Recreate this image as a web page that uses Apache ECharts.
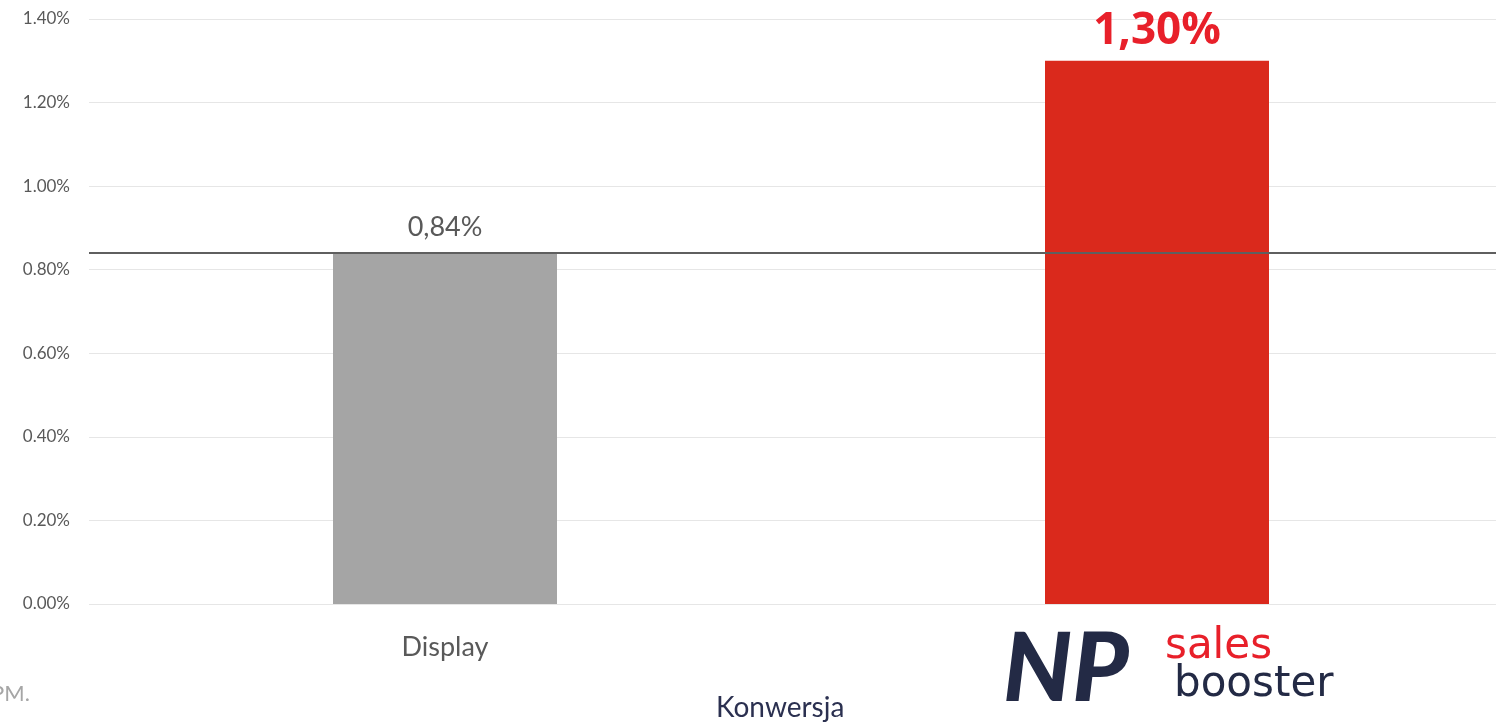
<!DOCTYPE html>
<html lang="pl">
<head>
    <meta charset="UTF-8"/>
    <title>Konwersja</title>
    <script src="https://cdn.jsdelivr.net/npm/echarts@6/dist/echarts.min.js"></script>
    <style>
        html, body {margin: 0; padding: 0; background: #fff;}
        #chart {width: 1496px; height: 728px;}
    </style>
</head>
<body>
<div id="chart"></div>
<script type="text/javascript">
    var categories = ["Display", "sales booster"];
    var values = [0.84, 1.30];
    var valueLabels = ["0,84%", "1,30%"];
    var barColors = ["#a5a5a5", "#da291c"];
    var refValue = 0.84;
    var yTicks = [0, 0.2, 0.4, 0.6, 0.8, 1.0, 1.2, 1.4];

    var font = "Lato, 'Open Sans', sans-serif";
    var chart = echarts.init(document.getElementById("chart"));

    chart.setOption({
        animation: false,
        grid: {left: 89, width: 1424, top: 19, bottom: 124, outerBoundsMode: "none", containLabel: false},
        xAxis: {
            type: "category",
            data: categories,
            axisLine: {show: false},
            axisTick: {show: false},
            axisLabel: {
                margin: 30,
                fontSize: 27,
                fontFamily: font,
                color: "#595959",
                formatter: function (v, i) {
                    return i === 0 ? v : "";
                }
            }
        },
        yAxis: {
            type: "value",
            min: yTicks[0],
            max: yTicks[yTicks.length - 1],
            interval: 0.2,
            axisLine: {show: false},
            axisTick: {show: false},
            splitLine: {lineStyle: {color: "#e6e6e6", width: 1}},
            axisLabel: {
                margin: 19,
                fontSize: 17,
                fontFamily: font,
                color: "#595959",
                formatter: function (v) {
                    return v.toFixed(2) + "%";
                }
            }
        },
        series: [{
            type: "bar",
            barWidth: 224,
            data: values.map(function (v, i) {
                return {
                    value: v,
                    itemStyle: {color: barColors[i]},
                    label: i === 0 ? {
                        show: true, position: "top", distance: 12,
                        formatter: valueLabels[i], fontSize: 27, fontFamily: font, color: "#595959"
                    } : {
                        show: true, position: "top", distance: 7,
                        formatter: valueLabels[i], fontSize: 44, fontWeight: "bold",
                        fontFamily: "'Open Sans', sans-serif", color: "#e8202a"
                    }
                };
            }),
            markLine: {
                silent: true,
                symbol: "none",
                label: {show: false},
                lineStyle: {color: "#5f5f5f", width: 2, type: "solid"},
                data: [{yAxis: refValue}]
            }
        }],
        graphic: [
            {
                type: "text", left: -9, top: 683,
                style: {text: "PM.", fontSize: 22, fontFamily: font, fill: "#a6a6a6"}
            },
            {
                type: "text", left: 716, top: 694,
                style: {text: "Konwersja", fontSize: 28, fontFamily: font, fill: "#2b3050"}
            },
            {
                type: "text", left: 1003, top: 622,
                style: {text: "NP", fontSize: 96, fontWeight: 900, fontStyle: "italic", fontFamily: font, fill: "#232a45"}
            },
            {
                type: "text", left: 1165, top: 626,
                style: {text: "sales", fontSize: 42, fontFamily: "'DejaVu Sans', sans-serif", fill: "#e8202a"}
            },
            {
                type: "text", left: 1174, top: 664,
                style: {text: "booster", fontSize: 42, fontFamily: "'DejaVu Sans', sans-serif", fill: "#232a45"}
            }
        ]
    });
</script>
</body>
</html>
